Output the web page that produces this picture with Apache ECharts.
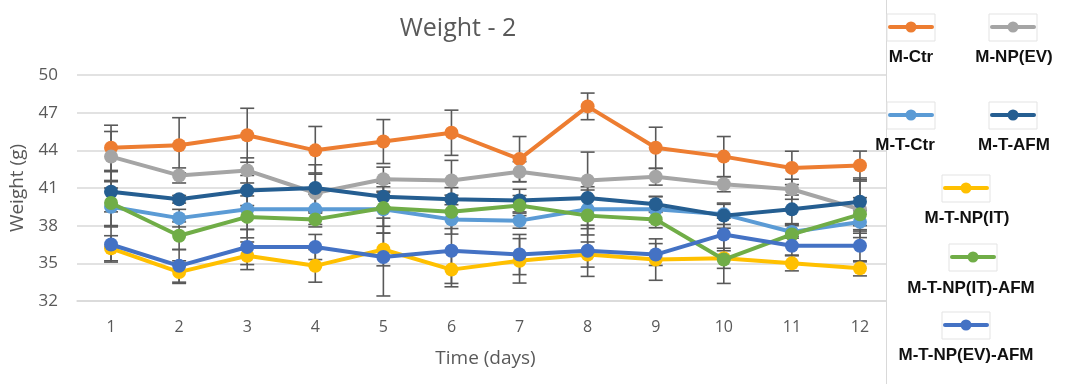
<!DOCTYPE html>
<html>
<head>
<meta charset="utf-8">
<title>Weight - 2</title>
<script src="https://cdn.jsdelivr.net/npm/echarts@6/dist/echarts.min.js"></script>
<style>
  html, body { margin: 0; padding: 0; background: #ffffff; }
  #chart { width: 1065px; height: 384px; }
</style>
</head>
<body>
<div id="chart"></div>
<script>
// Days on the x axis
const days = ['1', '2', '3', '4', '5', '6', '7', '8', '9', '10', '11', '12'];

// Group names and colours
const groupNames = ['M-Ctr', 'M-NP(EV)', 'M-T-Ctr', 'M-T-AFM', 'M-T-NP(IT)', 'M-T-NP(IT)-AFM', 'M-T-NP(EV)-AFM'];
const groupColors = ['#ED7D31', '#A5A5A5', '#5B9BD5', '#255E91', '#FFC000', '#70AD47', '#4472C4'];

// Mean body weight (g) per day
const mCtr        = [44.2, 44.4, 45.2, 44.0, 44.7, 45.4, 43.3, 47.5, 44.2, 43.5, 42.6, 42.8];
const mNpEv       = [43.5, 42.0, 42.4, 40.6, 41.7, 41.6, 42.3, 41.6, 41.9, 41.3, 40.9, 39.3];
const mTCtr       = [39.5, 38.6, 39.3, 39.3, 39.3, 38.5, 38.4, 39.3, 39.3, 38.9, 37.5, 38.3];
const mTAfm       = [40.7, 40.1, 40.8, 41.0, 40.3, 40.1, 40.0, 40.2, 39.7, 38.8, 39.3, 39.9];
const mTNpIt      = [36.2, 34.3, 35.6, 34.8, 36.1, 34.5, 35.2, 35.7, 35.3, 35.4, 35.0, 34.6];
const mTNpItAfm   = [39.8, 37.2, 38.7, 38.5, 39.4, 39.1, 39.6, 38.8, 38.5, 35.3, 37.3, 38.9];
const mTNpEvAfm   = [36.5, 34.8, 36.3, 36.3, 35.5, 36.0, 35.7, 36.0, 35.7, 37.3, 36.4, 36.4];

// Standard deviation (g) per day
const mCtrSd      = [1.8, 2.2, 2.15, 1.9, 1.75, 1.8, 1.8, 1.06, 1.64, 1.6, 1.33, 1.14];
const mNpEvSd     = [2.0, 0.6, 1.0, 1.6, 0.96, 1.6, 0.8, 2.26, 0.67, 0.6, 0.8, 2.25];
const mTCtrSd     = [1.5, 0.7, 1.6, 1.2, 1.35, 1.17, 0.6, 1.54, 1.0, 0.8, 0.5, 0.9];
const mTAfmSd     = [1.6, 0.3, 1.2, 1.85, 0.8, 0.93, 0.9, 0.9, 0.64, 1.0, 1.14, 1.9];
const mTNpItSd    = [1.0, 0.9, 1.1, 1.3, 1.3, 1.37, 1.77, 1.0, 1.65, 0.8, 0.6, 0.6];
const mTNpItAfmSd = [1.8, 1.1, 1.67, 0.6, 1.99, 1.33, 0.8, 1.54, 0.67, 1.9, 0.8, 1.33];
const mTNpEvAfmSd = [1.4, 1.3, 1.4, 1.0, 3.1, 2.6, 1.6, 2.04, 0.87, 1.3, 0.74, 1.28];

// Y axis ticks
const yMin = 32, yMax = 50, yStep = 3;

const means = [mCtr, mNpEv, mTCtr, mTAfm, mTNpIt, mTNpItAfm, mTNpEvAfm];
const sds = [mCtrSd, mNpEvSd, mTCtrSd, mTAfmSd, mTNpItSd, mTNpItAfmSd, mTNpEvAfmSd];

const axisFont = '"Open Sans", "Noto Sans", sans-serif';
const errColor = '#595959';

// Error bar renderer: vertical whisker with caps
function renderErr(params, api) {
  const x = api.value(0);
  const hi = api.coord([x, api.value(2)]);
  const lo = api.coord([x, api.value(1)]);
  const hw = 7;
  const style = { stroke: errColor, lineWidth: 1.6 };
  return {
    type: 'group',
    children: [
      { type: 'line', shape: { x1: hi[0], y1: hi[1], x2: lo[0], y2: lo[1] }, style: style },
      { type: 'line', shape: { x1: hi[0] - hw, y1: hi[1], x2: hi[0] + hw, y2: hi[1] }, style: style },
      { type: 'line', shape: { x1: lo[0] - hw, y1: lo[1], x2: lo[0] + hw, y2: lo[1] }, style: style }
    ]
  };
}

const series = [];
// Error bars first, below the lines
groupNames.forEach((name, i) => {
  series.push({
    type: 'custom',
    name: name + ' SD',
    renderItem: renderErr,
    encode: { x: 0, y: [1, 2] },
    data: means[i].map((m, k) => [k, m - sds[i][k], m + sds[i][k]]),
    z: 2,
    silent: true
  });
});
groupNames.forEach((name, i) => {
  series.push({
    type: 'line',
    name: name,
    data: means[i],
    color: groupColors[i],
    symbol: 'circle',
    symbolSize: 14,
    lineStyle: { width: 4, color: groupColors[i] },
    itemStyle: { color: groupColors[i] },
    z: 3 + i,
    animation: false
  });
});

// Legend panel on the right: boxed line-and-dot swatch above a bold label
const legendSpots = [
  [911, 27, 911, 57],
  [1013, 27, 1014, 57],
  [911, 115, 905, 145],
  [1013, 115, 1014, 145],
  [966, 188, 967, 218],
  [973, 257, 971, 288],
  [966, 325, 966, 355]
];
const graphics = [
  { type: 'rect', shape: { x: 886, y: 0, width: 179, height: 384 }, style: { fill: '#ffffff' }, z: 50 },
  { type: 'line', shape: { x1: 886.5, y1: 0, x2: 886.5, y2: 384 }, style: { stroke: '#d9d9d9', lineWidth: 1 }, z: 51 }
];
groupNames.forEach((name, i) => {
  const [ix, iy, tx, ty] = legendSpots[i];
  graphics.push(
    { type: 'rect', shape: { x: ix - 24, y: iy - 13, width: 48, height: 27 },
      style: { fill: '#ffffff', stroke: '#e3e3e3', lineWidth: 1 }, z: 52 },
    { type: 'line', shape: { x1: ix - 21, y1: iy, x2: ix + 21, y2: iy },
      style: { stroke: groupColors[i], lineWidth: 4, lineCap: 'round' }, z: 53 },
    { type: 'circle', shape: { cx: ix, cy: iy, r: 5.5 }, style: { fill: groupColors[i] }, z: 54 },
    { type: 'text', x: tx, y: ty, z: 55,
      style: { text: name, fill: '#111111', font: 'bold 17px "Liberation Sans", Arial, sans-serif',
               align: 'center', verticalAlign: 'middle' } }
  );
});

const option = {
  backgroundColor: '#ffffff',
  animation: false,
  title: {
    text: 'Weight - 2',
    left: 453, top: 11, textAlign: 'center',
    textStyle: { fontFamily: axisFont, fontSize: 25, fontWeight: 'normal', color: '#595959' }
  },
  grid: { left: 77, right: 171, top: 75, bottom: 83 },
  xAxis: {
    type: 'category',
    data: days,
    boundaryGap: true,
    name: 'Time (days)',
    nameLocation: 'middle',
    nameGap: 48,
    nameTextStyle: { fontFamily: axisFont, fontSize: 19, color: '#595959' },
    axisLine: { show: true, lineStyle: { color: '#d9d9d9', width: 1.5 } },
    axisTick: { show: false },
    axisLabel: { fontFamily: axisFont, fontSize: 16, color: '#595959', margin: 18 }
  },
  yAxis: {
    type: 'value',
    min: yMin, max: yMax, interval: yStep,
    name: 'Weight (g)',
    nameLocation: 'middle',
    nameGap: 50,
    nameTextStyle: { fontFamily: axisFont, fontSize: 19, color: '#595959' },
    axisLine: { show: false },
    axisTick: { show: false },
    splitLine: { lineStyle: { color: '#d9d9d9', width: 1.5 } },
    axisLabel: { fontFamily: axisFont, fontSize: 17, color: '#595959', margin: 19 }
  },
  series: series,
  graphic: graphics
};

const chart = echarts.init(document.getElementById('chart'), null, { renderer: 'canvas' });
chart.setOption(option);
</script>
</body>
</html>
